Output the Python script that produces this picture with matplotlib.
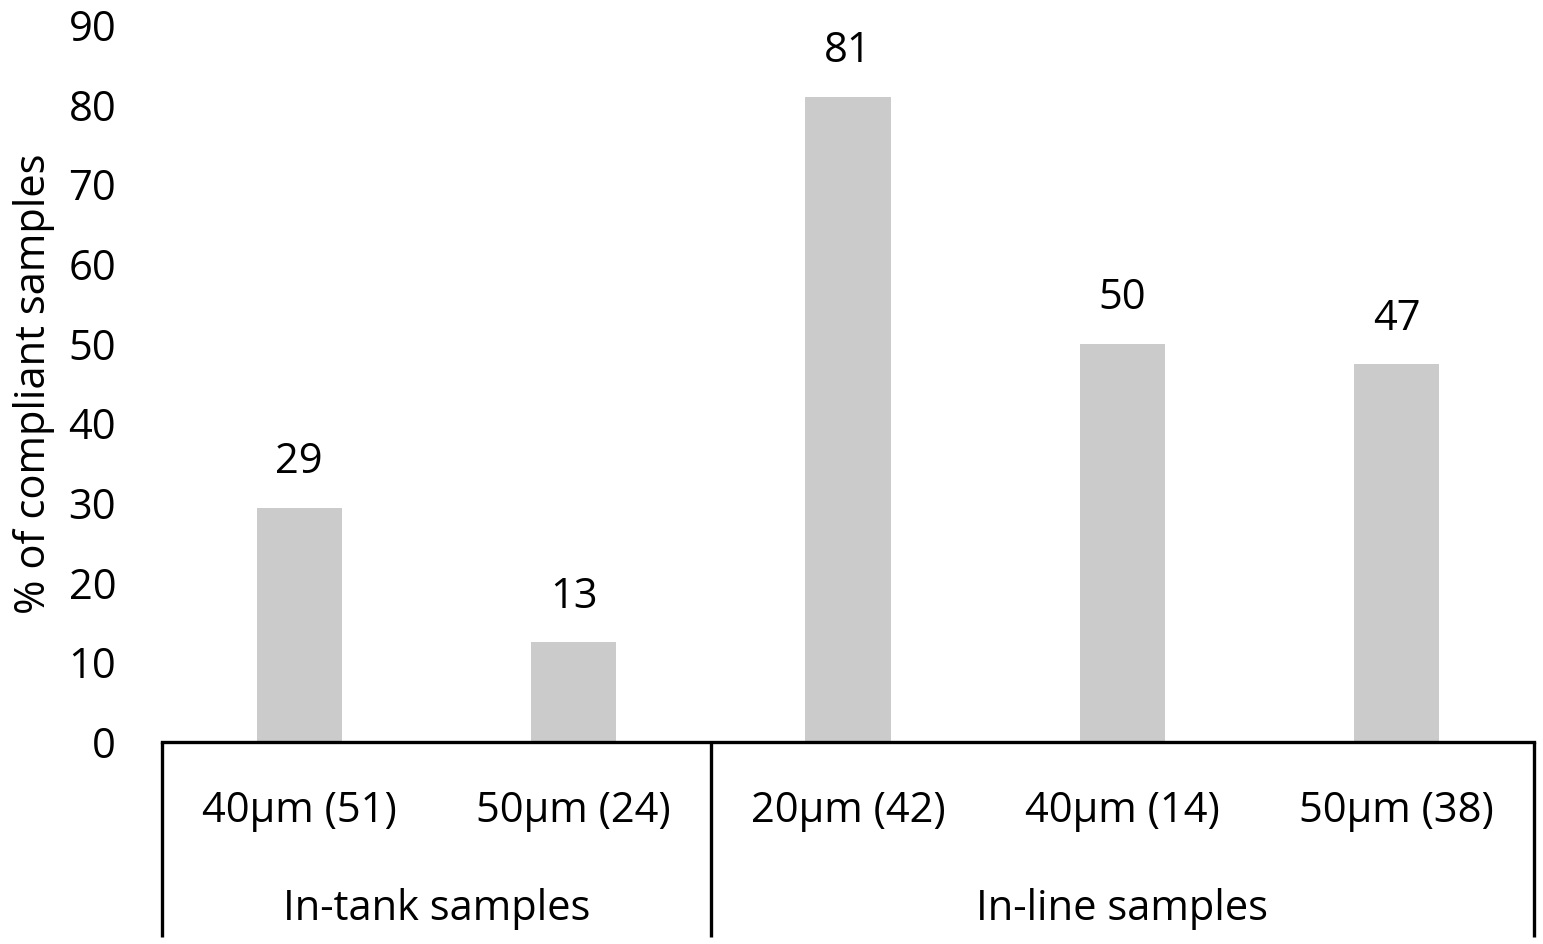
import matplotlib.pyplot as plt
import matplotlib.transforms as mtransforms

plt.rcParams['font.family'] = ['Open Sans', 'DejaVu Sans']

# data
sizes = ['40µm (51)', '50µm (24)', '20µm (42)', '40µm (14)', '50µm (38)']
percent = [29.4, 12.5, 81.0, 50.0, 47.4]
bar_labels = ['29', '13', '81', '50', '47']
groups = ['In-tank samples', 'In-line samples']
group_sizes = [2, 3]

FS = 30

fig = plt.figure(figsize=(15.43, 9.44), dpi=100)
ax = fig.add_axes([162/1543, 1 - 742/944, (1534-162)/1543, (742-25)/944])

x = list(range(len(sizes)))
ax.bar(x, percent, width=0.31, color='#CBCBCB', zorder=2)
for xi, v, lab in zip(x, percent, bar_labels):
    ax.annotate(lab, (xi, v), xytext=(0, 33), textcoords='offset points',
                ha='center', va='center', fontsize=FS)

ax.set_xlim(-0.5, len(sizes) - 0.5)
ax.set_ylim(0, 90)
ax.set_yticks(range(0, 91, 10))
ax.tick_params(axis='y', length=0, pad=33, labelsize=FS)
ax.set_xticks([])
for s in ['top', 'right', 'left']:
    ax.spines[s].set_visible(False)
ax.spines['bottom'].set_linewidth(2.4)
ax.spines['bottom'].set_capstyle('projecting')

ax.set_ylabel('% of compliant samples', fontsize=FS, labelpad=10)

# multi-level category axis
trans = mtransforms.blended_transform_factory(ax.transData, ax.transAxes)
for xi, s in zip(x, sizes):
    ax.text(xi, -0.096, s, transform=trans, ha='center', va='center', fontsize=FS)

start = -0.5
edges = [start]
for name, n in zip(groups, group_sizes):
    end = start + n
    ax.text((start + end) / 2, -0.233, name, transform=trans,
            ha='center', va='center', fontsize=FS)
    edges.append(end)
    start = end
for e in edges:
    ax.plot([e, e], [0, -0.272], transform=trans, color='black',
            lw=2.4, clip_on=False, solid_capstyle='butt')

fig.savefig('out.png', dpi=100)
